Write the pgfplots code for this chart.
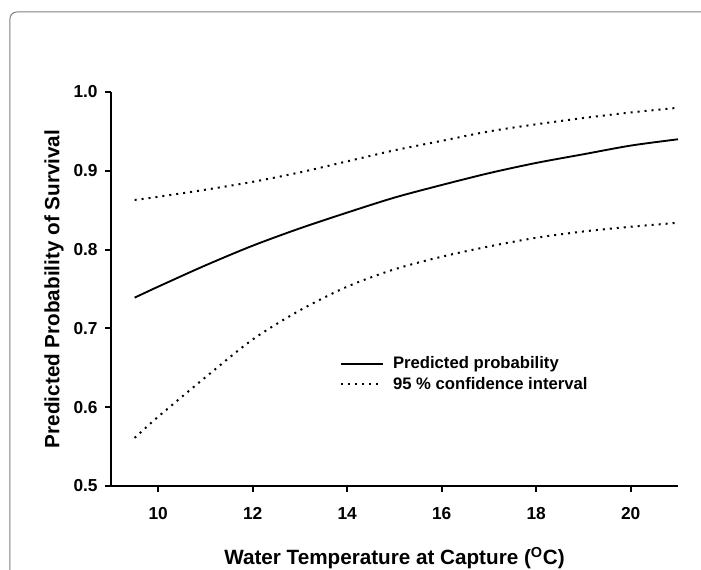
\documentclass[border=0pt]{standalone}
\usepackage{fontspec}
\setmainfont{Liberation Sans}
\usepackage{pgfplots}
\pgfplotsset{compat=1.18}

\begin{document}
\begin{tikzpicture}
% page = 701x570 px at 0.75pt/px, origin at the axis corner
\useasboundingbox (-83.25pt,-63pt) rectangle (442.5pt,364.5pt);
\clip (-83.25pt,-63pt) rectangle (442.5pt,364.5pt);
\draw[gray, line width=0.75pt, rounded corners=5pt] (-75.75pt,-120pt) rectangle (520pt,355.5pt);

\begin{axis}[
scale only axis,
width=425.25pt, height=295.5pt,
at={(0pt,0pt)}, anchor=south west,
xmin=9, xmax=21,
ymin=0.5, ymax=1.0,
axis x line=bottom, axis y line=left,
axis line style={-, line width=1.5pt},
tick align=outside,
major tick length=4.5pt,
tick style={line width=1.5pt, color=black},
xtick={10,12,14,16,18,20},
ytick={0.5,0.6,0.7,0.8,0.9,1.0},
/pgf/number format/assume math mode=true,
y tick label style={/pgf/number format/fixed, /pgf/number format/fixed zerofill, /pgf/number format/precision=1},
ticklabel style={font=\bfseries\fontsize{13}{15}\selectfont},
xticklabel style={yshift=-8pt},
yticklabel style={xshift=-2pt},
xlabel={Water Temperature at Capture (\textsuperscript{O}C)},
ylabel={Predicted Probability of Survival},
label style={font=\bfseries\fontsize{15.5}{18}\selectfont},
xlabel style={at={(axis description cs:0.5,-0.2)}, anchor=base},
ylabel style={at={(axis description cs:-0.075,0.5)}, anchor=south},
legend style={draw=none, fill=none, at={(0.397,0.342)}, anchor=north west,
  font=\bfseries\fontsize{12.5}{14}\selectfont, row sep=0.5pt},
legend cell align=left,
legend image code/.code={\draw[#1, line width=1.5pt] (0pt,0pt) -- (31.5pt,0pt); \path (36pt,0pt);},
]
\addplot [black, line width=1.4pt, smooth] table {%
9.5 0.739
10 0.753
11 0.780
12 0.805
13 0.827
14 0.847
15 0.866
16 0.882
17 0.897
18 0.910
19 0.921
20 0.932
21 0.940
};
\addlegendentry{Predicted probability}
\addplot [black, line width=1.5pt, dash pattern=on 1.5pt off 3.75pt, smooth] table {%
9.5 0.863
10 0.867
11 0.876
12 0.886
13 0.898
14 0.912
15 0.926
16 0.938
17 0.950
18 0.959
19 0.967
20 0.974
21 0.980
};
\addlegendentry{95 \% confidence interval}
\addplot [black, line width=1.5pt, dash pattern=on 1.5pt off 3.75pt, smooth, forget plot] table {%
9.5 0.561
10 0.588
11 0.638
12 0.686
13 0.723
14 0.753
15 0.775
16 0.791
17 0.804
18 0.815
19 0.823
20 0.829
21 0.834
};
\end{axis}
\end{tikzpicture}
\end{document}
